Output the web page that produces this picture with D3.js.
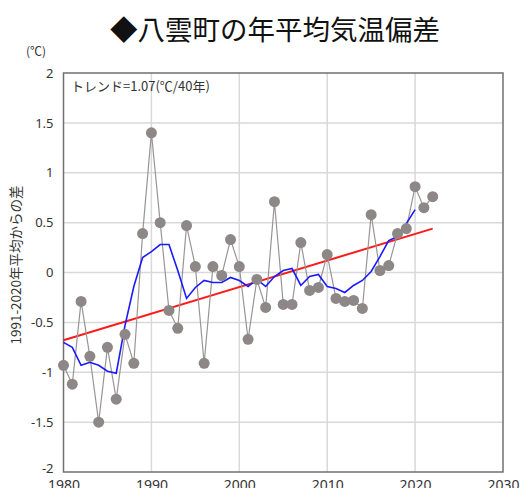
<!DOCTYPE html>
<html>
<head>
<meta charset="utf-8">
<script src="https://cdn.jsdelivr.net/npm/d3@7"></script>
<style>
  html, body { margin: 0; padding: 0; background: #fff; }
  svg { display: block; font-family: "Noto Sans CJK JP", "Noto Sans", sans-serif; }
</style>
</head>
<body>
<svg id="chart" width="521" height="488"></svg>
<script>
// Annual mean temperature anomaly at Yakumo (deviation from the 1991-2020 normal, ℃)
const years = d3.range(1980, 2023);
const anomaly = [
  -0.93, -1.12, -0.29, -0.84, -1.50, -0.75, -1.27, -0.62, -0.91, 0.39,
   1.40,  0.50, -0.38, -0.56,  0.47,  0.06, -0.91,  0.06, -0.03, 0.33,
   0.06, -0.67, -0.07, -0.35,  0.71, -0.32, -0.32,  0.30, -0.18, -0.15,
   0.18, -0.26, -0.29, -0.28, -0.36,  0.58,  0.02,  0.07,  0.39, 0.44,
   0.86,  0.65,  0.76
];
// 5-year running mean (1980-2020)
const meanYears = d3.range(1980, 2021);
const runningMean = [
  -0.70, -0.75, -0.93, -0.90, -0.93, -0.99, -1.01, -0.53, -0.14, 0.15,
   0.21,  0.28,  0.28,  0.02, -0.26, -0.15, -0.08, -0.10, -0.10, -0.05,
  -0.08, -0.14, -0.07, -0.14, -0.04,  0.02,  0.04, -0.13, -0.04, -0.02,
  -0.14, -0.16, -0.20, -0.13, -0.08,  0.01,  0.16,  0.32,  0.36, 0.49,
   0.63
];
// Linear trend endpoints
const trendYears = [1980, 2022];
const trendValues = [-0.68, 0.44];

const xTicks = [1980, 1990, 2000, 2010, 2020, 2030];
const yTicks = [-2, -1.5, -1, -0.5, 0, 0.5, 1, 1.5, 2];

const titleText = "◆八雲町の年平均気温偏差";
const unitText = "(℃)";
const yAxisTitle = "1991-2020年平均からの差";
const trendText = "トレンド=1.07(℃/40年)";

const svg = d3.select("#chart");
const plotLeft = 63.5, plotRight = 503, plotTop = 73, plotBottom = 472;

const x = d3.scaleLinear().domain([1980, 2030]).range([plotLeft, plotRight]);
const y = d3.scaleLinear().domain([-2, 2]).range([plotBottom, plotTop]);

// gridlines
svg.append("g").selectAll("line").data(xTicks.slice(1, -1)).join("line")
  .attr("x1", d => x(d)).attr("x2", d => x(d))
  .attr("y1", plotTop).attr("y2", plotBottom)
  .attr("stroke", "#d9d9d9").attr("stroke-width", 1.5);
svg.append("g").selectAll("line").data(yTicks.slice(1, -1)).join("line")
  .attr("x1", plotLeft).attr("x2", plotRight)
  .attr("y1", d => y(d)).attr("y2", d => y(d))
  .attr("stroke", "#d9d9d9").attr("stroke-width", 1.5);

// frame
svg.append("rect")
  .attr("x", plotLeft).attr("y", plotTop)
  .attr("width", plotRight - plotLeft).attr("height", plotBottom - plotTop)
  .attr("fill", "none").attr("stroke", "#707070").attr("stroke-width", 1.5);

// tick labels via d3 axes (axis lines hidden)
const yAxis = svg.append("g").attr("transform", `translate(${plotLeft},0)`)
  .call(d3.axisLeft(y).tickValues(yTicks).tickSize(0).tickPadding(10).tickFormat(d => String(d)));
yAxis.select(".domain").remove();
yAxis.selectAll("text").attr("font-size", 13).attr("fill", "#333")
  .attr("font-family", "'Noto Sans', sans-serif")
  .attr("dy", d => d === -2 ? "0.05em" : "0.32em");

const xAxis = svg.append("g").attr("transform", `translate(0,${plotBottom})`)
  .call(d3.axisBottom(x).tickValues(xTicks).tickSize(0).tickPadding(8).tickFormat(d3.format("d")));
xAxis.select(".domain").remove();
xAxis.selectAll("text").attr("font-size", 14).attr("fill", "#333")
  .attr("font-family", "'Noto Sans', sans-serif");

// trend line
svg.append("line")
  .attr("x1", x(trendYears[0])).attr("y1", y(trendValues[0]))
  .attr("x2", x(trendYears[1])).attr("y2", y(trendValues[1]))
  .attr("stroke", "#ff1a1a").attr("stroke-width", 2);

// anomaly series
const line = d3.line().x(d => x(d[0])).y(d => y(d[1]));
const pts = years.map((yr, i) => [yr, anomaly[i]]);
svg.append("path").datum(pts)
  .attr("d", line).attr("fill", "none")
  .attr("stroke", "#9a9595").attr("stroke-width", 1.2);

// running mean
const rm = meanYears.map((yr, i) => [yr, runningMean[i]]);
svg.append("path").datum(rm)
  .attr("d", line).attr("fill", "none")
  .attr("stroke", "#1a1aff").attr("stroke-width", 1.6);

svg.append("g").selectAll("circle").data(pts).join("circle")
  .attr("cx", d => x(d[0])).attr("cy", d => y(d[1])).attr("r", 5.5)
  .attr("fill", "#8d8787");

// texts
svg.append("text").attr("x", 275).attr("y", 40).attr("text-anchor", "middle")
  .attr("font-size", 27.5).attr("fill", "#111").text(titleText);
svg.append("text").attr("x", 36).attr("y", 56).attr("text-anchor", "middle")
  .attr("font-size", 12).attr("fill", "#333").text(unitText);
svg.append("text").attr("transform", "translate(21,265) rotate(-90)")
  .attr("text-anchor", "middle").attr("font-size", 13.5).attr("fill", "#333")
  .text(yAxisTitle);
svg.append("text").attr("x", 71).attr("y", 91)
  .attr("font-size", 13).attr("fill", "#333").text(trendText);
</script>
</body>
</html>
